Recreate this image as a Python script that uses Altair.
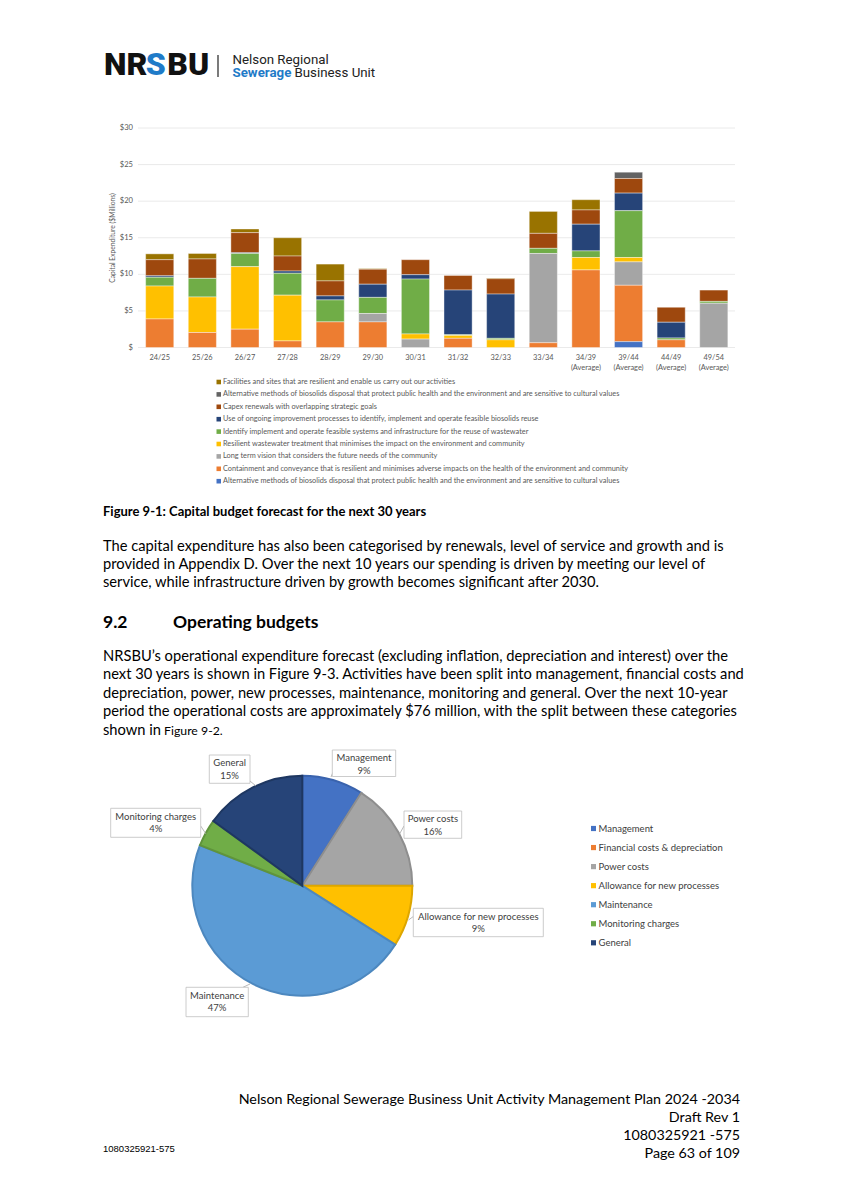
import altair as alt
import pandas as pd

# ---------------- data: capital budget (Figure 9-1) ----------------
periods = ["24/25", "25/26", "26/27", "27/28", "28/29", "29/30", "30/31",
           "31/32", "32/33", "33/34", "34/39", "39/44", "44/49", "49/54"]
period_sub = ["", "", "", "", "", "", "", "", "", "",
              "(Average)", "(Average)", "(Average)", "(Average)"]

series_names = [
    "Facilities and sites that are resilient and enable us carry out our activities",
    "Alternative methods of biosolids disposal that protect public health and the environment and are sensitive to cultural values",
    "Capex renewals with overlapping strategic goals",
    "Use of ongoing improvement processes to identify, implement and operate feasible biosolids reuse",
    "Identify implement and operate feasible systems and infrastructure for the reuse of wastewater",
    "Resilient wastewater treatment that minimises the impact on the environment and community",
    "Long term vision that considers the future needs of the community",
    "Containment and conveyance that is resilient and minimises adverse impacts on the health of the environment and community",
    "Alternative methods of biosolids disposal that protect public health and the environment and are sensitive to cultural values\u00a0",
]
series_colors = ["#997300", "#636363", "#9E480E", "#264478", "#70AD47",
                 "#FFC000", "#A5A5A5", "#ED7D31", "#4472C4"]

facilities = [0.8, 0.75, 0.5, 2.5, 2.3, 0.1, 0, 0, 0.1, 3.0, 1.4, 0, 0, 0]
alt_grey = [0, 0, 0, 0, 0, 0, 0, 0, 0, 0, 0, 0.86, 0, 0]
capex = [2.2, 2.65, 2.75, 2.05, 2.05, 2.05, 2.05, 2.0, 2.1, 2.05, 1.95, 2.0, 2.05, 1.55]
use_ongoing = [0.2, 0, 0.1, 0.3, 0.55, 1.8, 0.6, 6.1, 6.05, 0, 3.65, 2.4, 2.15, 0]
identify = [1.2, 2.55, 1.8, 3.0, 3.0, 2.2, 7.5, 0.1, 0.2, 0.7, 0.9, 6.4, 0.25, 0.25]
resilient = [4.5, 4.85, 8.55, 6.25, 0, 0, 0.7, 0.4, 1.05, 0, 1.7, 0.6, 0, 0]
long_term = [0, 0, 0, 0, 0, 1.15, 1.15, 0, 0, 12.2, 0, 3.2, 0, 6.05]
containment = [3.9, 2.05, 2.5, 0.9, 3.5, 3.5, 0, 1.25, 0, 0.65, 10.6, 7.7, 1.05, 0]
alt_blue = [0, 0, 0, 0, 0, 0, 0, 0, 0, 0, 0, 0.8, 0, 0]
series_values = [facilities, alt_grey, capex, use_ongoing, identify,
                 resilient, long_term, containment, alt_blue]

y_ticks = [0, 5, 10, 15, 20, 25, 30]
y_tick_labels = ["$", "$5", "$10", "$15", "$20", "$25", "$30"]
y_title = "Capital Expenditure ($Millions)"

# ---------------- data: operating budget pie (Figure 9-2) ----------------
pie_cats = ["Management", "Financial costs & depreciation", "Power costs",
            "Allowance for new processes", "Maintenance", "Monitoring charges", "General"]
pie_share = [9, 0, 16, 9, 47, 4, 15]
pie_colors = ["#4472C4", "#ED7D31", "#A5A5A5", "#FFC000", "#5B9BD5", "#70AD47", "#264478"]
pie_edges = ["#3A63AD", "#C96A2A", "#8E8E8E", "#DDA600", "#4D88BF", "#5F943C", "#1E3761"]

# ---------------- page text ----------------
caption = "Figure 9-1: Capital budget forecast for the next 30 years"
para1 = [
    "The capital expenditure has also been categorised by renewals, level of service and growth and is",
    "provided in Appendix D. Over the next 10 years our spending is driven by meeting our level of",
    "service, while infrastructure driven by growth becomes significant after 2030.",
]
heading_num = "9.2"
heading_txt = "Operating budgets"
para2 = [
    "NRSBU\u2019s operational expenditure forecast (excluding inflation, depreciation and interest) over the",
    "next 30 years is shown in Figure 9-3. Activities have been split into management, financial costs and",
    "depreciation, power, new processes, maintenance, monitoring and general. Over the next 10-year",
    "period the operational costs are approximately $76 million, with the split between these categories",
]
para2_last = ["shown in ", "Figure 9-2."]
footer_right = [
    "Nelson Regional Sewerage Business Unit Activity Management Plan 2024 -2034",
    "Draft Rev 1",
    "1080325921 -575",
    "Page 63 of 109",
]
footer_left = "1080325921-575"

# ---------------- layout helpers (page pixel coords -> chart coords) ----------------
OFF = 8


def P(v):
    return v - OFF


one = alt.Data(values=[{"a": 1}])


def txt(s, x, y, size, color="#000000", font="Lato", weight="normal",
        align="left", baseline="middle", angle=None):
    kw = dict(align=align, baseline=baseline, font=font, fontSize=size,
              fontWeight=weight, color=color)
    if angle is not None:
        kw["angle"] = angle
    return alt.Chart(alt.Data(values=[{"t": s}])).mark_text(**kw).encode(
        x=alt.value(P(x)), y=alt.value(P(y)), text="t:N")


def rule(x1, y1, x2, y2, color, w):
    return alt.Chart(one).mark_rule(color=color, strokeWidth=w).encode(
        x=alt.value(P(x1)), y=alt.value(P(y1)),
        x2=alt.value(P(x2)), y2=alt.value(P(y2)))


def box(x1, y1, x2, y2, fill="white", stroke="#BFBFBF", sw=0.8):
    return alt.Chart(one).mark_rect(fill=fill, stroke=stroke, strokeWidth=sw).encode(
        x=alt.value(P(x1)), y=alt.value(P(y1)),
        x2=alt.value(P(x2)), y2=alt.value(P(y2)))


layers = []

# ---------------- header logo ----------------
layers.append(txt("NR", 104, 75, 32, color="#111111", font="Roboto", weight=900, baseline="alphabetic"))
layers.append(txt("S", 145.7, 75, 32, color="#1F7BC8", font="Roboto", weight=900, baseline="alphabetic"))
layers.append(txt("BU", 167.3, 75, 32, color="#111111", font="Roboto", weight=900, baseline="alphabetic"))
layers.append(rule(218, 55, 218, 77, "#333333", 1.3))
layers.append(txt("Nelson Regional", 232.5, 63.5, 13.3, color="#222222", font="Roboto", baseline="alphabetic"))
layers.append(txt("Sewerage", 232.5, 76.5, 13.3, color="#1F7BC8", font="Roboto", weight="bold", baseline="alphabetic"))
layers.append(txt("Business Unit", 294.5, 76.5, 13.3, color="#222222", font="Roboto", baseline="alphabetic"))

# ---------------- bar chart ----------------
x_scale = alt.Scale(domain=periods, range=[P(138.4), P(735.1)],
                    paddingInner=0.34, paddingOuter=0.17)
y_scale = alt.Scale(domain=[0, 30], range=[P(347.5), P(128)], nice=False, zero=True)

tick_df = pd.DataFrame({"t": y_ticks, "lab": y_tick_labels})
layers.append(alt.Chart(tick_df).mark_rule(color="#E4E4E4", strokeWidth=0.8).encode(
    y=alt.Y("t:Q", scale=y_scale, axis=None),
    x=alt.value(P(138)), x2=alt.value(P(735))))

rows = []
n_s = len(series_names)
for si, (name, vals) in enumerate(zip(series_names, series_values)):
    for p, v in zip(periods, vals):
        if v > 0:
            rows.append({"period": p, "series": name, "value": v, "stack": n_s - 1 - si})
bar_df = pd.DataFrame(rows)

layers.append(alt.Chart(bar_df).mark_bar(stroke="white", strokeWidth=0.4).encode(
    x=alt.X("period:N", scale=x_scale, axis=None),
    y=alt.Y("value:Q", scale=y_scale, axis=None, stack="zero"),
    color=alt.Color("series:N", scale=alt.Scale(domain=series_names, range=series_colors),
                    legend=None),
    order=alt.Order("stack:Q", sort="ascending")))

layers.append(alt.Chart(tick_df).mark_text(align="right", baseline="middle", font="Lato",
                                           fontSize=7.6, color="#595959").encode(
    y=alt.Y("t:Q", scale=y_scale, axis=None), x=alt.value(P(133)), text="lab:N"))

per_df = pd.DataFrame({"period": periods, "sub": period_sub})
layers.append(alt.Chart(per_df).mark_text(align="center", baseline="middle", font="Lato",
                                          fontSize=7.4, color="#595959").encode(
    x=alt.X("period:N", scale=x_scale, axis=None), y=alt.value(P(358)), text="period:N"))
layers.append(alt.Chart(per_df).mark_text(align="center", baseline="middle", font="Lato",
                                          fontSize=7.4, color="#595959").encode(
    x=alt.X("period:N", scale=x_scale, axis=None), y=alt.value(P(368)), text="sub:N"))

layers.append(txt(y_title, 113, 238, 6.7, color="#595959", align="center", angle=270))

# bar legend (one row per series, in legend order)
for i, (name, col) in enumerate(zip(series_names, series_colors)):
    ry = 382 + 12.4 * i
    layers.append(box(216.5, ry - 2.3, 221, ry + 2.3, fill=col, stroke=col, sw=0))
    layers.append(txt(name.strip(), 223, ry, 7.35, color="#595959"))

# ---------------- caption and body text ----------------
layers.append(txt(caption, 103, 512, 13.0, weight="bold"))
for i, line in enumerate(para1):
    layers.append(txt(line, 103, 547 + 18.2 * i, 14.7))
layers.append(txt(heading_num, 103, 623, 17.5, weight="bold"))
layers.append(txt(heading_txt, 173, 623, 17.5, weight="bold"))
for i, line in enumerate(para2):
    layers.append(txt(line, 103, 657 + 18.4 * i, 14.7))
layers.append(txt(para2_last[0], 103, 657 + 18.4 * 4, 14.7))
layers.append(txt(para2_last[1], 164, 657 + 18.4 * 4, 12.3))

# ---------------- pie chart ----------------
pie_df = pd.DataFrame({"cat": pie_cats, "share": pie_share, "idx": list(range(len(pie_cats)))})
layers.append(alt.Chart(pie_df[pie_df["share"] > 0]).mark_arc(strokeWidth=2).encode(
    theta=alt.Theta("share:Q", stack=True),
    color=alt.Color("cat:N", scale=alt.Scale(domain=pie_cats, range=pie_colors), legend=None),
    stroke=alt.Stroke("cat:N", scale=alt.Scale(domain=pie_cats, range=pie_edges), legend=None),
    order=alt.Order("idx:Q", sort="ascending"),
    x=alt.value(P(302.3)), y=alt.value(P(885.7)), radius=alt.value(110)))

# callout boxes: (x1, y1, x2, y2) and leader line, in page pixels
callouts = {
    "Management": ((332.3, 750, 395.7, 776.5), (333, 772, 331, 777)),
    "Power costs": ((404, 811, 461.7, 838.3), (404, 826, 399.5, 834)),
    "Allowance for new processes": ((413.3, 908.3, 543.3, 936.7), (413.3, 916.5, 408.5, 920)),
    "Maintenance": ((186, 987.3, 248.3, 1016.7), (243, 987.3, 250, 984)),
    "Monitoring charges": ((110.7, 808.3, 200.7, 837.3), (200.7, 826, 206, 834)),
    "General": ((209.3, 755, 250, 783.3), (250, 781, 256, 786)),
}
for cat, share in zip(pie_cats, pie_share):
    if share <= 0 or cat not in callouts:
        continue
    (bx1, by1, bx2, by2), (lx1, ly1, lx2, ly2) = callouts[cat]
    layers.append(rule(lx1, ly1, lx2, ly2, "#A6A6A6", 0.8))
    layers.append(box(bx1, by1, bx2, by2))
    cx = (bx1 + bx2) / 2
    layers.append(txt(cat, cx, by1 + 8.3, 9.5, color="#404040", align="center"))
    layers.append(txt(f"{share}%", cx, by1 + 20.7, 9.5, color="#404040", align="center"))

# pie legend
for i, (cat, col) in enumerate(zip(pie_cats, pie_colors)):
    ry = 828.5 + 19.05 * i
    layers.append(box(591, ry - 2.6, 596, ry + 2.6, fill=col, stroke=col, sw=0))
    layers.append(txt(cat, 598.5, ry, 9.5, color="#404040"))

# ---------------- footer ----------------
for i, line in enumerate(footer_right):
    layers.append(txt(line, 740, 1100 + 18.1 * i, 14.3, align="right"))
layers.append(txt(footer_left, 103, 1149, 9.5, font="Liberation Sans"))

chart = alt.layer(*layers).resolve_scale(
    color="independent", stroke="independent"
).properties(
    width=827, height=1178,
    autosize=alt.AutoSizeParams(type="none"),
    padding=0, background="white",
).configure_view(strokeWidth=0)

chart.save("out.html", embed_options={"renderer": "svg", "actions": False})
